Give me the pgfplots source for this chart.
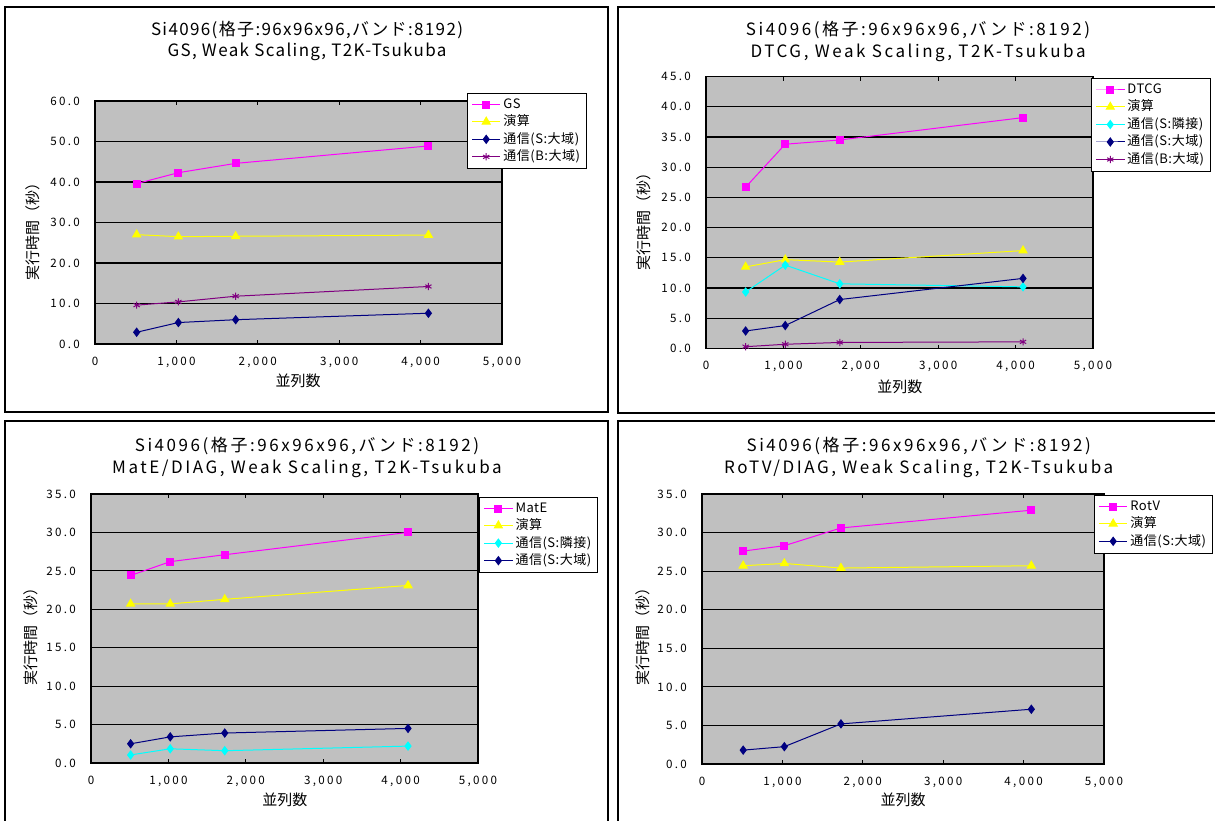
\documentclass[border=0pt]{standalone}
\usepackage{fontspec}
\setmainfont{Noto Sans CJK JP}
\newfontfamily\trk[LetterSpace=20]{Noto Sans CJK JP}
\newfontfamily\ttl[LetterSpace=15]{Noto Sans CJK JP}
\newfontfamily\ttlA[LetterSpace=8]{Noto Sans CJK JP}
\newfontfamily\lgd[LetterSpace=4]{Noto Sans CJK JP}
\usepackage{pgfplots}
\pgfplotsset{compat=1.18}
\definecolor{xgray}{RGB}{192,192,192}
\definecolor{xmag}{RGB}{255,0,255}
\definecolor{xyel}{RGB}{255,255,0}
\definecolor{xcyan}{RGB}{0,255,255}
\definecolor{xnavy}{RGB}{0,0,128}
\definecolor{xpurp}{RGB}{128,0,128}
\pgfplotsset{
  every axis title shift=0pt,
  panel/.style={
    scale only axis, anchor=north west,
    axis background/.style={fill=xgray},
    xmin=0, xmax=5000, xtick={0,1000,...,5000},
    scaled ticks=false,
    ymajorgrids, grid style={black, line width=0.6pt},
    axis line style={black, line width=0.7pt},
    tick align=inside, major tick length=2pt,
    ytick style={draw=none},
    xtick style={black, line width=0.5pt},
    /pgf/number format/assume math mode=true,
    tick label style={font=\trk\fontsize{5.8}{7}\selectfont, text=black},
    xticklabel shift=3pt, yticklabel shift=4pt,
    xticklabel style={/pgf/number format/fixed, /pgf/number format/1000 sep={,}},
    yticklabel style={/pgf/number format/fixed, /pgf/number format/fixed zerofill, /pgf/number format/precision=1},
    title style={align=center, anchor=center, font=\ttl\fontsize{8.5}{11}\selectfont},
    xlabel={並列数}, ylabel={実行時間（秒）},
    label style={font=\fontsize{7.5}{9}\selectfont},
    legend style={anchor=north west, draw=black, line width=0.5pt, fill=white,
      font=\lgd\fontsize{6.5}{8}\selectfont, inner xsep=2pt, inner ysep=1.3pt,
      row sep=-0.6pt, nodes={inner sep=1.2pt}},
    legend cell align=left,
    legend image code/.code={\draw[mark repeat=2,mark phase=2] plot coordinates {(0cm,0cm) (0.25cm,0cm) (0.5cm,0cm)};},
  },
  sGS/.style={xmag, line width=0.5pt, mark=square*, mark size=1.75pt, mark options={fill=xmag, draw=xmag}},
  sEn/.style={xyel, line width=0.5pt, mark=triangle*, mark size=2.3pt, mark options={fill=xyel, draw=xyel}},
  sRin/.style={xcyan, line width=0.5pt, mark=diamond*, mark size=2pt, mark options={fill=xcyan, draw=xcyan}},
  sSd/.style={xnavy, line width=0.5pt, mark=diamond*, mark size=2pt, mark options={fill=xnavy, draw=xnavy}},
  sBd/.style={xpurp, line width=0.5pt, mark=asterisk, mark size=1.8pt, mark options={draw=xpurp}},
}
\begin{document}
\begin{tikzpicture}
\path[use as bounding box, fill=white] (0,0) rectangle (607.5pt,-410pt);
\draw[line width=0.6pt] (2.5pt,-3.5pt) rectangle (304pt,-206pt);
\draw[line width=0.6pt] (309pt,-3.5pt) rectangle (612pt,-206.5pt);
\draw[line width=0.6pt] (2.5pt,-210.5pt) rectangle (304pt,-415pt);
\draw[line width=0.6pt] (309pt,-210.5pt) rectangle (612pt,-415pt);

% Panel 1: GS
\begin{axis}[panel, at={(47.5pt,-50.5pt)}, width=203.5pt, height=121.5pt,
  ymin=0, ymax=60, ytick={0,10,...,60},
  title={Si4096(格子:96x96x96,バンド:8192)\\GS, Weak Scaling, T2K-Tsukuba},
  title style={at={(axis description cs:0.521,1.245)}, font=\ttlA\fontsize{8.5}{10.5}\selectfont},
  xlabel style={at={(axis description cs:0.499,-0.152)}, anchor=center},
  ylabel style={at={(axis description cs:-0.152,0.477)}, anchor=center},
  legend style={at={(axis description cs:0.914,1.033)}}]
\addplot[sGS] coordinates {(512,39.6) (1024,42.3) (1728,44.6) (4096,48.9)};
\addlegendentry{GS}
\addplot[sEn] coordinates {(512,27.0) (1024,26.5) (1728,26.6) (4096,26.9)};
\addlegendentry{演算}
\addplot[sSd] coordinates {(512,2.9) (1024,5.3) (1728,6.0) (4096,7.6)};
\addlegendentry{通信(S:大域)}
\addplot[sBd] coordinates {(512,9.6) (1024,10.4) (1728,11.8) (4096,14.2)};
\addlegendentry{通信(B:大域)}
\end{axis}

% Panel 2: DTCG
\begin{axis}[panel, at={(353pt,-38.25pt)}, width=193.5pt, height=136pt,
  ymin=0, ymax=45, ytick={0,5,...,45},
  title={Si4096(格子:96x96x96,バンド:8192)\\DTCG, Weak Scaling, T2K-Tsukuba},
  title style={at={(axis description cs:0.548,1.127)}},
  xlabel style={at={(axis description cs:0.501,-0.142)}, anchor=center},
  ylabel style={at={(axis description cs:-0.160,0.48)}, anchor=center},
  legend style={at={(axis description cs:0.995,0.994)}}]
\addplot[sGS] coordinates {(512,26.7) (1024,33.8) (1728,34.5) (4096,38.2)};
\addlegendentry{DTCG}
\addplot[sEn] coordinates {(512,13.5) (1024,14.7) (1728,14.3) (4096,16.2)};
\addlegendentry{演算}
\addplot[sRin] coordinates {(512,9.35) (1024,13.8) (1728,10.7) (4096,10.2)};
\addlegendentry{通信(S:隣接)}
\addplot[sSd] coordinates {(512,2.9) (1024,3.8) (1728,8.1) (4096,11.6)};
\addlegendentry{通信(S:大域)}
\addplot[sBd] coordinates {(512,0.3) (1024,0.7) (1728,1.0) (4096,1.1)};
\addlegendentry{通信(B:大域)}
\end{axis}

% Panel 3: MatE
\begin{axis}[panel, at={(45.5pt,-247pt)}, width=193.5pt, height=134.5pt,
  ymin=0, ymax=35, ytick={0,5,...,35},
  title={Si4096(格子:96x96x96,バンド:8192)\\MatE/DIAG, Weak Scaling, T2K-Tsukuba},
  title style={at={(axis description cs:0.558,1.135)}},
  xlabel style={at={(axis description cs:0.501,-0.138)}, anchor=center},
  ylabel style={at={(axis description cs:-0.155,0.483)}, anchor=center},
  legend style={at={(axis description cs:1.003,0.989)}}]
\addplot[sGS] coordinates {(512,24.4) (1024,26.2) (1728,27.1) (4096,30.0)};
\addlegendentry{MatE}
\addplot[sEn] coordinates {(512,20.7) (1024,20.7) (1728,21.3) (4096,23.1)};
\addlegendentry{演算}
\addplot[sRin] coordinates {(512,1.05) (1024,1.85) (1728,1.6) (4096,2.2)};
\addlegendentry{通信(S:隣接)}
\addplot[sSd] coordinates {(512,2.5) (1024,3.4) (1728,3.9) (4096,4.5)};
\addlegendentry{通信(S:大域)}
\end{axis}

% Panel 4: RotV
\begin{axis}[panel, at={(351pt,-247pt)}, width=201pt, height=135pt,
  ymin=0, ymax=35, ytick={0,5,...,35},
  title={Si4096(格子:96x96x96,バンド:8192)\\RoTV/DIAG, Weak Scaling, T2K-Tsukuba},
  title style={at={(axis description cs:0.539,1.135)}},
  xlabel style={at={(axis description cs:0.5,-0.133)}, anchor=center},
  ylabel style={at={(axis description cs:-0.147,0.485)}, anchor=center},
  legend style={at={(axis description cs:0.975,0.996)}}]
\addplot[sGS] coordinates {(512,27.6) (1024,28.3) (1728,30.6) (4096,32.9)};
\addlegendentry{RotV}
\addplot[sEn] coordinates {(512,25.7) (1024,26.0) (1728,25.4) (4096,25.7)};
\addlegendentry{演算}
\addplot[sSd] coordinates {(512,1.8) (1024,2.25) (1728,5.2) (4096,7.1)};
\addlegendentry{通信(S:大域)}
\end{axis}
\end{tikzpicture}
\end{document}
